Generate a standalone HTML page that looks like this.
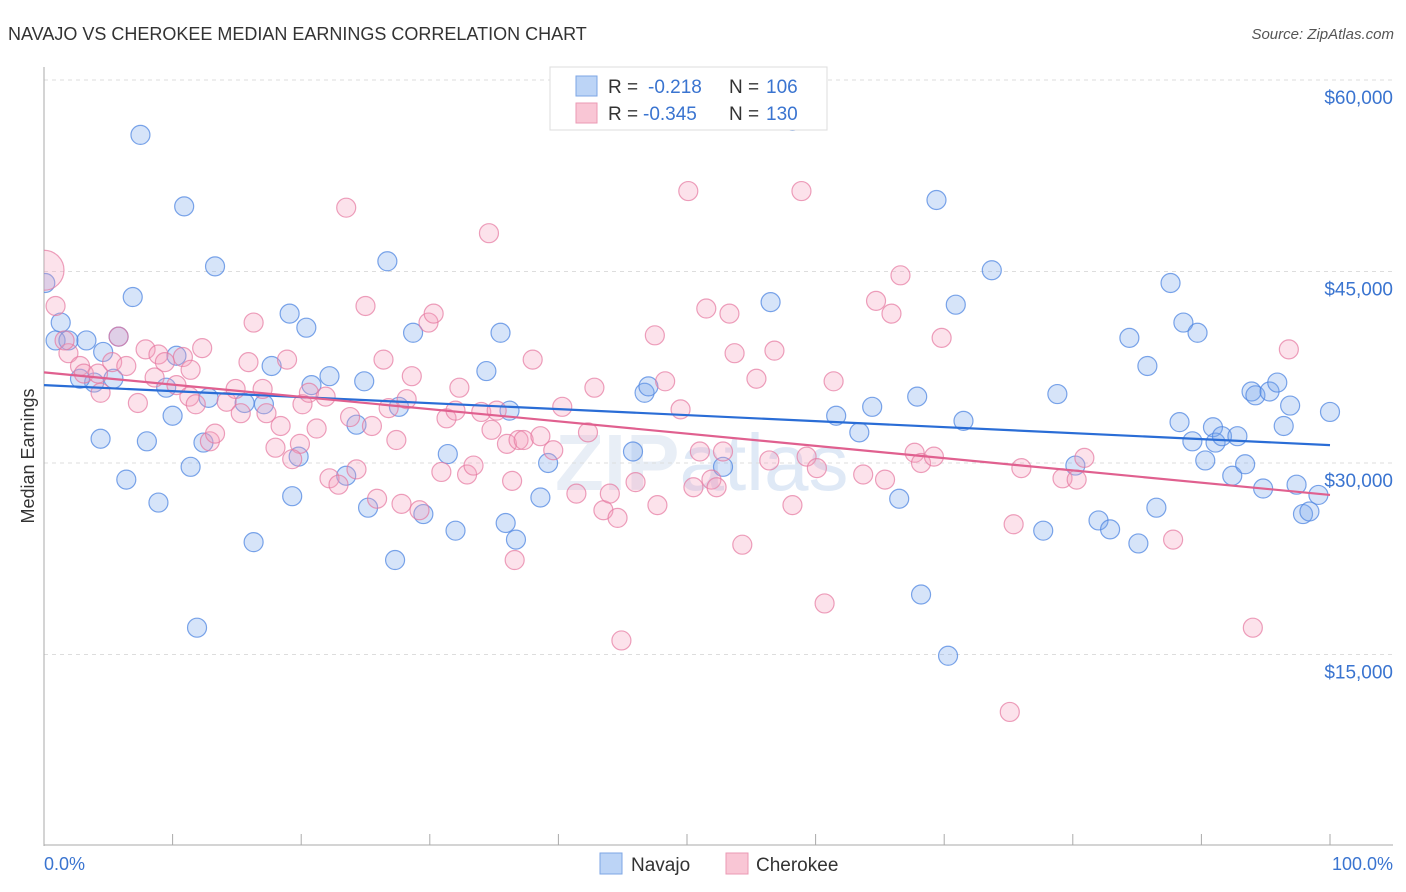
<!DOCTYPE html>
<html><head><meta charset="utf-8"><style>
body{margin:0;background:#fff;width:1406px;height:892px;overflow:hidden;font-family:"Liberation Sans",sans-serif}
svg{position:absolute;left:0;top:0}
</style></head><body>
<svg id="chart" width="1406" height="892">
<defs><clipPath id="plotclip"><rect x="44" y="60" width="1360" height="786"/></clipPath></defs>
<text x="8" y="40" font-size="18" fill="#333">NAVAJO VS CHEROKEE MEDIAN EARNINGS CORRELATION CHART</text>
<text x="1394" y="39" font-size="15" fill="#555" font-style="italic" text-anchor="end">Source: ZipAtlas.com</text>
<text x="555" y="490" font-size="80" fill="#e8eef6" font-weight="bold">ZIP<tspan font-weight="normal" fill="#dfe9f6">atlas</tspan></text>
<g id="grid"></g>
<g id="axes"></g>
<g id="points" clip-path="url(#plotclip)"></g>
<g id="trends"></g>
<text transform="translate(34,456) rotate(-90)" font-size="18" fill="#333" text-anchor="middle">Median Earnings</text>
<text x="44" y="870" font-size="18" fill="#3a74d0">0.0%</text>
<text x="1393" y="870" font-size="18" fill="#3a74d0" text-anchor="end">100.0%</text>
<g>
<rect x="550" y="67" width="277" height="63" fill="#fff" stroke="#ddd"/>
<rect x="576" y="76" width="21" height="20" fill="#bcd4f6" stroke="#7da6e4"/>
<rect x="576" y="103" width="21" height="20" fill="#f9c6d5" stroke="#eb9ab4"/>
<text x="608" y="93" font-size="19" fill="#333">R = <tspan x="648" fill="#3a74d0">-0.218</tspan><tspan x="729" fill="#333">N = </tspan><tspan x="766" fill="#3a74d0">106</tspan></text>
<text x="608" y="120" font-size="19" fill="#333">R = <tspan x="643" fill="#3a74d0">-0.345</tspan><tspan x="729" fill="#333">N = </tspan><tspan x="766" fill="#3a74d0">130</tspan></text>
</g>
<g>
<rect x="600" y="853" width="22" height="21" fill="#bcd4f6" stroke="#7da6e4"/>
<text x="631" y="871" font-size="19" fill="#333">Navajo</text>
<rect x="726" y="853" width="22" height="21" fill="#f9c6d5" stroke="#eb9ab4"/>
<text x="756" y="871" font-size="19" fill="#333">Cherokee</text>
</g>
</svg>
<script>
const yTicks=[15000,30000,45000,60000];
const yTickLabels=["$15,000","$30,000","$45,000","$60,000"];
const xTicks=[0,10,20,30,40,50,60,70,80,90,100];
const navajoX=[7.5,10.9,13.3,0.1,6.9,1.3,0.9,1.9,3.3,4.6,5.8,3.9,2.8,5.4,10.3,9.5,10.0,12.8,15.6,17.1,19.1,20.4,17.7,20.8,22.2,24.9,24.3,26.7,28.7,27.6,35.5,34.4,36.2,4.4,8.0,12.4,11.4,6.4,8.9,11.9,16.3,19.3,19.8,23.5,25.2,27.3,29.5,31.4,32.0,35.9,36.7,38.6,39.2,45.8,46.7,47.0,52.8,56.5,58.2,61.6,63.4,64.4,66.5,67.9,68.2,69.4,70.3,70.9,71.5,73.7,77.7,78.8,80.2,82.0,82.9,84.4,85.1,85.8,86.5,87.6,88.3,88.6,89.3,89.7,90.3,90.9,91.1,91.6,92.8,92.4,93.4,93.9,94.2,95.3,95.9,94.8,96.4,96.9,97.4,97.9,98.4,99.1,100];
const navajoY=[55.7,50.1,45.4,44.1,43.0,41.0,39.6,39.6,39.6,38.7,39.9,36.3,36.6,36.6,38.4,35.9,33.7,35.1,34.7,34.6,41.7,40.6,37.6,36.1,36.8,36.4,33.0,45.8,40.2,34.4,40.2,37.2,34.1,31.9,31.7,31.6,29.7,28.7,26.9,17.1,23.8,27.4,30.5,29.0,26.5,22.4,26.0,30.7,24.7,25.3,24.0,27.3,30.0,30.9,35.5,36.0,29.7,42.6,56.8,33.7,32.4,34.4,27.2,35.2,19.7,50.6,14.9,42.4,33.3,45.1,24.7,35.4,29.8,25.5,24.8,39.8,23.7,37.6,26.5,44.1,33.2,41.0,31.7,40.2,30.2,32.8,31.6,32.1,32.1,29.0,29.9,35.6,35.3,35.6,36.3,28.0,32.9,34.5,28.3,26.0,26.2,27.5,34.0];
const cherokeeX=[0,0.9,1.9,1.6,2.8,3.1,4.2,4.4,5.3,5.8,6.4,7.3,7.9,8.6,8.9,9.4,10.3,10.8,11.4,12.3,11.3,11.8,12.9,13.3,14.2,14.9,15.3,16.3,15.9,17.0,17.3,18.4,18.0,19.9,19.3,18.9,20.1,20.6,21.2,21.9,22.2,22.9,23.5,23.8,24.3,25.0,25.5,25.9,26.4,26.8,27.4,27.8,28.2,28.6,29.2,29.9,30.3,30.9,31.3,32.0,32.3,32.9,33.4,34.0,34.6,34.8,35.2,36.0,36.4,36.6,36.9,37.3,38.0,38.6,39.6,40.3,41.4,42.3,42.8,43.5,44.0,44.6,44.9,46.0,47.5,47.7,48.3,49.5,50.1,50.5,51.0,51.5,51.9,52.3,52.8,53.3,53.7,54.3,55.4,56.4,56.8,58.2,58.9,59.3,60.1,60.7,61.4,63.7,64.7,65.4,65.9,66.6,67.7,68.2,69.2,69.8,75.4,75.1,76.0,79.2,80.3,80.9,87.8,94.0,96.8];
const cherokeeY=[45.1,42.3,38.6,39.6,37.6,37.0,37.0,35.5,37.9,39.9,37.6,34.7,38.9,36.7,38.5,37.9,36.1,38.3,37.3,39.0,35.2,34.6,31.7,32.3,34.8,35.8,33.9,41.0,37.9,35.8,33.9,32.9,31.2,31.5,30.3,38.1,34.6,35.5,32.7,35.2,28.8,28.3,50.0,33.6,29.5,42.3,32.9,27.2,38.1,34.3,31.8,26.8,35.0,36.8,26.3,41.0,41.7,29.3,33.5,34.1,35.9,29.1,29.8,34.0,48.0,32.6,34.1,31.5,28.6,22.4,31.8,31.8,38.1,32.1,31.0,34.4,27.6,32.4,35.9,26.3,27.6,25.7,16.1,28.5,40.0,26.7,36.4,34.2,51.3,28.1,30.9,42.1,28.7,28.1,30.9,41.7,38.6,23.6,36.6,30.2,38.8,26.7,51.3,30.5,29.6,19.0,36.4,29.1,42.7,28.7,41.7,44.7,30.8,30.0,30.5,39.8,25.2,10.5,29.6,28.8,28.7,30.4,24.0,17.1,38.9];
const navajoTrend=[36.1,31.4];
const cherokeeTrend=[37.1,27.5];

const NS="http://www.w3.org/2000/svg";
const X0=44,X1=1330,YB=846,PX=191.5/15000;
const sx=p=>X0+(X1-X0)*p/100;
const sy=v=>YB-v*PX;
function mk(t,attrs,parent){const e=document.createElementNS(NS,t);for(const k in attrs)e.setAttribute(k,attrs[k]);parent.appendChild(e);return e;}
const grid=document.getElementById('grid'),axes=document.getElementById('axes'),pts=document.getElementById('points'),tr=document.getElementById('trends');
yTicks.forEach((v,i)=>{
 const l=mk('line',{x1:X0,x2:1393,y1:sy(v),y2:sy(v),stroke:'#ddd','stroke-dasharray':'4,4'},grid);
 
 
 const t=mk('text',{x:1393,y:sy(v)+24,'font-size':19,fill:'#3a74d0','text-anchor':'end'},grid);
 t.textContent=yTickLabels[i];
 
 
});
const ya=mk('line',{x1:X0,x2:X0,y1:67,y2:846,stroke:'#aaa'},axes);


const xa=mk('line',{x1:X0,x2:1393,y1:845,y2:845,stroke:'#aaa'},axes);


xTicks.forEach(p=>{
 const t=mk('line',{x1:sx(p),x2:sx(p),y1:834,y2:845,stroke:'#aaa'},axes);
 
 
});
function series(xs,ys,fill,stroke,name){
 xs.forEach((x,i)=>{
  const r=(name==='cherokee-point'&&i===0)?20:9.5;
  const c=mk('circle',{cx:sx(x),cy:sy(ys[i]*1000),r:r,fill:fill,stroke:stroke,'stroke-width':1.2},pts);
  
  
 });
}
series(navajoX,navajoY,'rgba(120,165,235,0.3)','rgba(80,135,225,0.75)','navajo-point');
series(cherokeeX,cherokeeY,'rgba(245,160,190,0.3)','rgba(230,120,160,0.7)','cherokee-point');
const t1=mk('line',{x1:sx(0),x2:sx(100),y1:sy(navajoTrend[0]*1000),y2:sy(navajoTrend[1]*1000),stroke:'#2a6dd6','stroke-width':2.2},tr);


const t2=mk('line',{x1:sx(0),x2:sx(100),y1:sy(cherokeeTrend[0]*1000),y2:sy(cherokeeTrend[1]*1000),stroke:'#e0608f','stroke-width':2.2},tr);


</script>
</body></html>
